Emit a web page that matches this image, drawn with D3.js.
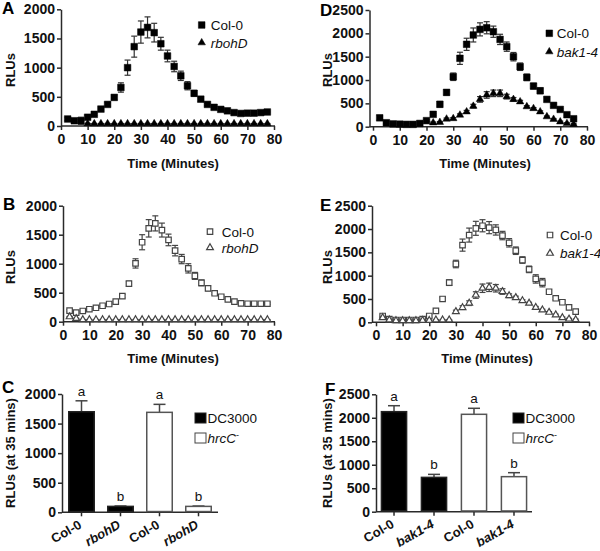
<!DOCTYPE html>
<html><head><meta charset="utf-8">
<script src="https://cdn.jsdelivr.net/npm/d3@7"></script>
<style>
body{margin:0;background:#fff}
svg{display:block}
text{font-family:"Liberation Sans",Arial,Helvetica,sans-serif}
</style>
</head><body>
<svg id="chart" width="600" height="551"></svg>
<script>
// ---------- data ----------
const xTicks = [0,10,20,30,40,50,60,70,80];
const yTicks2000 = [0,500,1000,1500,2000];
const yTicks2500 = [0,500,1000,1500,2000,2500];

// Panels A & B time points (minutes)
const timeAB = [2.5,5,7.5,10,12.5,15,17.5,20,22.5,25,27.5,30,32.5,35,37.5,40,42.5,45,47.5,50,52.5,55,57.5,60,62.5,65,67.5,70,72.5,75,77.5];
const timeArboh = [10,12.5,15,17.5,20,22.5,25,27.5,30,32.5,35,37.5,40,42.5,45,47.5,50,52.5,55,57.5,60,62.5,65,67.5,70,72.5,75,77.5];
// Panels D & E time points
const timeDE = [2.5,5,7.5,10,12.5,15,17.5,20,22.5,25,27.5,30,32.5,35,37.5,40,42.5,45,47.5,50,52.5,55,57.5,60,62.5,65,67.5,70,72.5,75];
const timeDbak = [22.5,25,27.5,30,32.5,35,37.5,40,42.5,45,47.5,50,52.5,55,57.5,60,62.5,65,67.5,70,72.5,75];

// A: DC3000
const colA    = [120,90,90,150,200,290,370,490,660,1000,1360,1610,1690,1600,1410,1200,1020,860,690,560,460,370,320,285,260,230,215,220,220,230,240];
const colAErr = [25,20,60,30,20,20,30,40,80,130,180,190,180,160,110,100,90,80,70,50,40,20,20,15,15,15,15,15,15,15,15];
const rbohA    = [42,40,40,40,40,40,40,40,40,40,40,40,40,40,40,40,40,40,40,40,40,40,40,40,40,40,40,40];
const rbohAErr = [3,3,3,3,3,3,3,3,3,3,3,3,3,3,3,3,3,3,3,3,3,3,3,3,3,3,3,3];

// B: hrcC-
const colB    = [190,155,185,215,240,275,305,345,440,655,1005,1370,1610,1695,1580,1410,1225,1080,920,790,670,575,490,430,385,345,315,310,310,310,310];
const colBErr = [20,15,15,15,15,15,15,20,30,40,80,130,150,130,120,100,90,80,80,60,50,40,20,15,15,15,15,15,15,15,15];
const rbohB    = [85,55,35,35,35,35,35,35,35,35,35,35,35,35,35,35,35,35,35,35,35,35,35,35,35,35,35,35,35,35,35];
const rbohBErr = [5,3,3,3,3,3,3,3,3,3,3,3,3,3,3,3,3,3,3,3,3,3,3,3,3,3,3,3,3,3,3];

// D: DC3000
const colD    = [190,85,60,55,50,50,70,130,265,480,735,1070,1465,1765,1965,2085,2120,2035,1870,1715,1500,1285,1057,870,770,585,457,370,257,170];
const colDErr = [50,20,15,15,15,15,20,20,20,60,60,80,130,130,150,140,130,120,110,100,90,80,70,60,60,40,30,20,20,20];
const bakD    = [85,95,165,175,250,320,440,585,680,715,715,645,585,535,430,390,320,215,160,105,70,50];
const bakDErr = [15,15,20,20,25,30,40,60,70,70,70,50,40,30,20,20,20,15,15,15,15,15];

// E: hrcC-
const colE    = [135,70,50,50,50,50,70,135,245,500,850,1250,1655,1870,2015,2070,2030,1980,1860,1705,1535,1335,1135,930,850,655,515,430,320,230];
const colEErr = [20,15,15,15,15,15,20,30,30,40,60,80,130,150,150,130,130,110,90,90,80,70,70,90,90,40,30,30,30,30];
const bakE    = [100,50,35,35,35,35,40,40,50,50,50,230,315,410,585,730,750,730,660,570,530,465,410,320,265,215,160,100,70,55];
const bakEErr = [15,10,10,10,10,10,10,10,10,10,10,30,40,50,70,90,90,80,60,40,30,20,20,20,15,15,15,15,15,15];

// C & F bars (at 35 min)
const barCats = ["c1","c2","c3","c4"];
const barLabelsC = ["Col-0","rbohD","Col-0","rbohD"];
const barLabelsF = ["Col-0","bak1-4","Col-0","bak1-4"];
const barItalic = [false,true,false,true];
const barStrain = ["DC3000","DC3000","hrcC","hrcC"];
const barC    = [1700,100,1690,100];
const barCErr = [185,6,135,6];
const barF    = [2130,731,2074,746];
const barFErr = [127,64,128,85];
const barLetters = ["a","b","a","b"];

// ---------- drawing ----------
const svg = d3.select("#chart");
const AX = "#2a2a2a";
const FONT_TICK = 14;
const fmt = d3.format("d");

function styleAxis(sel){
  sel.selectAll("line").attr("stroke", AX).attr("stroke-width", 1.5);
  sel.selectAll("path").attr("stroke", AX).attr("stroke-width", 1.5);
  sel.selectAll("text").attr("font-size", FONT_TICK).attr("font-weight","bold").attr("fill","#111")
     .attr("font-family", '"Liberation Sans",Arial,sans-serif');
}

function panelLetter(txt, x, y){
  svg.append("text").attr("x", x).attr("y", y).attr("font-size", 17).attr("font-weight","bold")
    .attr("fill","#000").text(txt);
}

function rotTitle(txt, cx, cy, size){
  svg.append("text").attr("transform", `translate(${cx + size*0.36},${cy}) rotate(-90)`)
    .attr("text-anchor","middle").attr("font-size", size).attr("font-weight","bold").attr("fill","#111").text(txt);
}

function symFor(s){
  return d3.symbol().type(s.shape === "sq" ? d3.symbolSquare : d3.symbolTriangle)
      .size(s.shape === "sq" ? (s.filled ? 44 : 30) : (s.filled ? 24 : 20));
}

function linePanel(p){
  const g = svg.append("g");
  const x = d3.scaleLinear().domain([0,80]).range([p.x0, p.x1]);
  const y = d3.scaleLinear().domain([0,p.yMax]).range([p.yb, p.yt]);

  const xa = g.append("g").attr("transform", `translate(0,${p.yb})`)
    .call(d3.axisBottom(x).tickValues(xTicks).tickFormat(fmt).tickSize(4).tickPadding(4).tickSizeOuter(0));
  xa.select(".domain").remove();
  styleAxis(xa);
  g.append("line").attr("x1", p.ax).attr("x2", p.x1 + 1).attr("y1", p.yb).attr("y2", p.yb)
    .attr("stroke", AX).attr("stroke-width", 1.5);

  const ya = g.append("g").attr("transform", `translate(${p.ax},0)`)
    .call(d3.axisLeft(y).tickValues(p.yTicks).tickFormat(fmt).tickSize(4).tickPadding(2).tickSizeOuter(0));
  styleAxis(ya);

  p.series.forEach(s => {
    const data = s.t.map((t,i) => ({t, v: s.v[i], e: s.e[i]}));
    const eg = g.append("g").attr("stroke", s.errColor).attr("stroke-width", 1.2).attr("fill","none");
    data.forEach(d => {
      const y1 = y(Math.max(0, d.v - d.e)), y2 = y(d.v + d.e), cx = x(d.t);
      eg.append("line").attr("x1", cx).attr("x2", cx).attr("y1", y1).attr("y2", y2);
      eg.append("line").attr("x1", cx-3).attr("x2", cx+3).attr("y1", y2).attr("y2", y2);
      eg.append("line").attr("x1", cx-3).attr("x2", cx+3).attr("y1", y1).attr("y2", y1);
    });
    g.append("g").selectAll("path").data(data).join("path")
      .attr("transform", d => `translate(${x(d.t)},${y(d.v)})`)
      .attr("d", symFor(s))
      .attr("fill", s.filled ? "#000" : "#fff")
      .attr("stroke", s.filled ? "#000" : "#444")
      .attr("stroke-width", s.filled ? 0.5 : 1.2);
  });

  // legend
  p.series.forEach((s,i) => {
    const ly = p.leg[1] + i * p.legGap;
    g.append("path").attr("transform", `translate(${p.leg[0]},${ly})`).attr("d", symFor(s))
      .attr("fill", s.filled ? "#000" : "#fff").attr("stroke", s.filled ? "#000" : "#444")
      .attr("stroke-width", s.filled ? 0.5 : 1.2);
    g.append("text").attr("x", p.leg[0] + p.legText).attr("y", ly + 4.8)
      .attr("font-size", 13.5).attr("fill","#111").attr("font-style", s.italic ? "italic" : "normal")
      .text(s.name);
  });

  g.append("text").attr("x", p.tx).attr("y", p.ty).attr("text-anchor","middle")
    .attr("font-size", 13).attr("font-weight","bold").attr("fill","#111").text("Time (Minutes)");
  rotTitle("RLUs", p.rx, p.ry, 13);
  panelLetter(p.letter, p.lx, p.ly);
}

function barPanel(p){
  const g = svg.append("g");
  const x = d3.scaleBand().domain(barCats).range([p.ax, p.ax + p.width])
    .paddingInner(p.pin).paddingOuter(p.pout);
  const y = d3.scaleLinear().domain([0,p.yMax]).range([p.yb, p.yt]);

  const ya = g.append("g").attr("transform", `translate(${p.ax},0)`)
    .call(d3.axisLeft(y).tickValues(p.yTicks).tickFormat(fmt).tickSize(4).tickPadding(2).tickSizeOuter(0));
  styleAxis(ya);

  const xa = g.append("g").attr("transform", `translate(0,${p.yb})`)
    .call(d3.axisBottom(x).tickSize(4).tickSizeOuter(0).tickFormat(""));
  xa.select(".domain").remove();
  styleAxis(xa);
  g.append("line").attr("x1", p.ax).attr("x2", p.ax + p.width).attr("y1", p.yb).attr("y2", p.yb)
    .attr("stroke", AX).attr("stroke-width", 1.5);

  const data = barCats.map((c,i) => ({c, v: p.vals[i], e: p.errs[i], s: barStrain[i], lab: p.labels[i], it: barItalic[i], let: barLetters[i]}));

  data.forEach(d => {
    const cx = x(d.c) + x.bandwidth()/2;
    g.append("line").attr("x1", cx).attr("x2", cx).attr("y1", y(d.v)).attr("y2", y(d.v + d.e))
      .attr("stroke","#444").attr("stroke-width",1.5);
    g.append("line").attr("x1", cx-6).attr("x2", cx+6).attr("y1", y(d.v + d.e)).attr("y2", y(d.v + d.e))
      .attr("stroke","#444").attr("stroke-width",1.5);
    g.append("text").attr("x", cx).attr("y", y(d.v + d.e) - 5).attr("text-anchor","middle")
      .attr("font-size", 13.5).attr("fill","#111").text(d.let);
    g.append("text").attr("transform", `translate(${cx + 1},${p.yb + 15}) rotate(-30)`)
      .attr("text-anchor","end").attr("font-size", 13).attr("font-weight","bold")
      .attr("font-style", d.it ? "italic" : "normal").attr("fill","#111").text(d.lab);
  });

  g.selectAll("rect.bar").data(data).join("rect").attr("class","bar")
    .attr("x", d => x(d.c) + 0.75).attr("width", x.bandwidth() - 1.5)
    .attr("y", d => y(d.v)).attr("height", d => p.yb - y(d.v) - 0.75)
    .attr("fill", d => d.s === "DC3000" ? "#000" : "#fff")
    .attr("stroke", d => d.s === "DC3000" ? "#222" : "#555").attr("stroke-width", 1.5);

  const lg = g.append("g");
  lg.append("rect").attr("x", p.leg[0]).attr("y", p.leg[1]).attr("width", 11).attr("height", 10)
    .attr("fill","#000").attr("stroke","#222");
  lg.append("text").attr("x", p.leg[0] + 12.5).attr("y", p.leg[1] + 10).attr("font-size", 13.5).attr("fill","#111").text("DC3000");
  lg.append("rect").attr("x", p.leg[0]).attr("y", p.leg[1] + p.legGap).attr("width", 11).attr("height", 10)
    .attr("fill","#fff").attr("stroke","#444").attr("stroke-width",1);
  const ht = lg.append("text").attr("x", p.leg[0] + 12.5).attr("y", p.leg[1] + p.legGap + 10).attr("font-size", 13.5).attr("fill","#111");
  ht.append("tspan").attr("font-style","italic").text("hrcC");
  ht.append("tspan").attr("font-size", 9).attr("dy", -5).text("-");

  rotTitle("RLUs (at 35 mins)", p.rx, p.ry, 13);
  panelLetter(p.letter, p.lx, p.ly);
}

linePanel({letter:"A", lx:2, ly:13.5, x0:61, x1:274, ax:61, yb:126, yt:9.3, yMax:2000, yTicks:yTicks2000,
  series:[
    {name:"Col-0", t:timeAB, v:colA, e:colAErr, shape:"sq", filled:true, errColor:"#333"},
    {name:"rbohD", t:timeArboh, v:rbohA, e:rbohAErr, shape:"tri", filled:true, errColor:"#333", italic:true}
  ],
  leg:[201.7,25], legGap:17.7, legText:9, tx:173, ty:168, rx:10, ry:70});

linePanel({letter:"B", lx:3, ly:210, x0:63, x1:274, ax:63, yb:321.7, yt:205.7, yMax:2000, yTicks:yTicks2000,
  series:[
    {name:"Col-0", t:timeAB, v:colB, e:colBErr, shape:"sq", filled:false, errColor:"#444"},
    {name:"rbohD", t:timeAB, v:rbohB, e:rbohBErr, shape:"tri", filled:false, errColor:"#444", italic:true}
  ],
  leg:[210,231.7], legGap:16, legText:11.7, tx:173, ty:363, rx:10, ry:267});

linePanel({letter:"D", lx:320, ly:16, x0:373, x1:587, ax:369.5, yb:126.7, yt:10, yMax:2500, yTicks:yTicks2500,
  series:[
    {name:"Col-0", t:timeDE, v:colD, e:colDErr, shape:"sq", filled:true, errColor:"#333"},
    {name:"bak1-4", t:timeDbak, v:bakD, e:bakDErr, shape:"tri", filled:true, errColor:"#333", italic:true}
  ],
  leg:[549.3,33.3], legGap:18.4, legText:7.4, tx:485, ty:168, rx:327, ry:70});

linePanel({letter:"E", lx:320, ly:211, x0:376, x1:589, ax:372, yb:322.3, yt:205.7, yMax:2500, yTicks:yTicks2500,
  series:[
    {name:"Col-0", t:timeDE, v:colE, e:colEErr, shape:"sq", filled:false, errColor:"#444"},
    {name:"bak1-4", t:timeDE, v:bakE, e:bakEErr, shape:"tri", filled:false, errColor:"#444", italic:true}
  ],
  leg:[550,235], legGap:18.3, legText:10, tx:487, ty:363, rx:327, ry:267});

barPanel({letter:"C", lx:2, ly:393, ax:62, width:156, pin:0.308, pout:0.154, yb:512.3, yt:394, yMax:2000,
  yTicks:yTicks2000, vals:barC, errs:barCErr, labels:barLabelsC, leg:[195,413], legGap:20, rx:10, ry:453});

barPanel({letter:"F", lx:325, ly:395, ax:376, width:156, pin:0.333, pout:0.117, yb:511.7, yt:394.3, yMax:2500,
  yTicks:yTicks2500, vals:barF, errs:barFErr, labels:barLabelsF, leg:[513,413], legGap:20, rx:327, ry:453});
</script>
</body></html>
